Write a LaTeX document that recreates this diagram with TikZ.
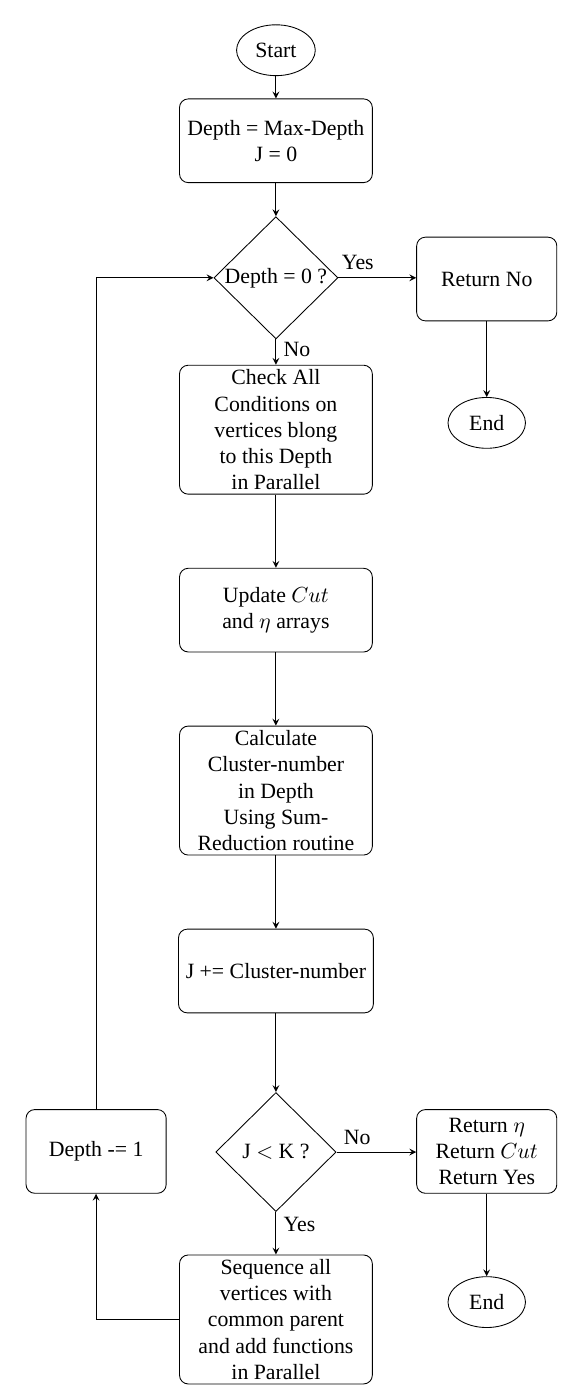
\documentclass[tikz,border=0pt]{standalone}
\usepackage{amsmath}
\usepackage{fontspec}
\setmainfont{Liberation Serif}
\usetikzlibrary{shapes.geometric}

\begin{document}
\begin{tikzpicture}[>=stealth,
                block/.style={draw, rectangle, rounded corners=4pt, align=center, inner ysep=1pt, minimum width=3.11cm, minimum height=1.35cm},
                sideblock/.style={block, minimum width=2.26cm},
                test/.style={draw, diamond, aspect=1, inner sep=0pt, minimum width=2cm, minimum height=1.92cm, align=center},
                term/.style={draw, ellipse, minimum width=1.25cm, minimum height=0.82cm}]
                \useasboundingbox (0,0) rectangle (9.32,-22.45);

                \node[term] (start) at (4.45,-0.81) {Start};
                \node[block] (init) at (4.45,-2.27) {Depth = Max-Depth\\J = 0};
                \node[test] (depthzero) at (4.45,-4.48) {Depth = 0 ?};
                \node[sideblock] (retno) at (7.85,-4.50) {Return No};
                \node[term] (endone) at (7.85,-6.82) {End};
                \node[block, minimum height=2.08cm] (check) at (4.45,-6.93) {Check All\\Conditions on\\vertices blong\\to this Depth\\in Parallel};
                \node[block] (update) at (4.45,-9.84) {Update $Cut$\\and $\eta$ arrays};
                \node[block, minimum height=2.08cm] (calc) at (4.45,-12.75) {Calculate\\Cluster-number\\in Depth\\Using Sum-\\Reduction routine};
                \node[block] (jadd) at (4.45,-15.66) {J += Cluster-number};
                \node[test, minimum width=1.94cm] (jless) at (4.45,-18.58) {J $<$ K ?};
                \node[sideblock] (retyes) at (7.85,-18.57) {Return $\eta$\\Return $Cut$\\Return Yes};
                \node[term] (endtwo) at (7.85,-21.0) {End};
                \node[block, minimum height=2.08cm] (seq) at (4.45,-21.28) {Sequence all\\vertices with\\common parent\\and add functions\\in Parallel};
                \node[sideblock] (dec) at (1.55,-18.57) {Depth -= 1};

                \draw[->] (start) -- (init);
                \draw[->] (init) -- (depthzero);
                \draw[->] (depthzero.east) -- node[above, pos=0.25]{Yes} (depthzero.east -| retno.west);
                \draw[->] (retno) -- (endone);
                \draw[->] (depthzero.south) -- node[right, pos=0.4]{No} (check.north);
                \draw[->] (check) -- (update);
                \draw[->] (update) -- (calc);
                \draw[->] (calc) -- (jadd);
                \draw[->] (jadd) -- (jless);
                \draw[->] (jless.east) -- node[above, pos=0.26]{No} (jless.east -| retyes.west);
                \draw[->] (retyes) -- (endtwo);
                \draw[->] (jless.south) -- node[right, pos=0.3]{Yes} (seq.north);
                \draw[->] (seq.west) -| (dec.south);
                \draw[->] (dec.north) |- (depthzero.west);
            \end{tikzpicture}
\end{document}
